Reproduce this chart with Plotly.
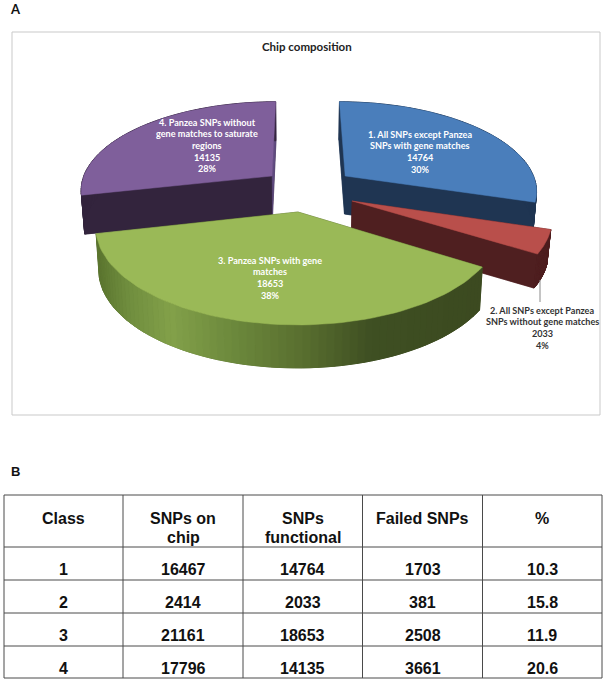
import numpy as np
import plotly.graph_objects as go

# ---- data ----
classes = ["1", "2", "3", "4"]
on_chip = [16467, 2414, 21161, 17796]
functional = [14764, 2033, 18653, 14135]
failed = [1703, 381, 2508, 3661]
failed_pct = ["10.3", "15.8", "11.9", "20.6"]
pie_pct = ["30%", "4%", "38%", "28%"]
headers = [["Class"], ["SNPs on", "chip"], ["SNPs", "functional"], ["Failed SNPs"], ["%"]]
slice_names = [
    ["1. All SNPs except Panzea", "SNPs with gene matches"],
    ["2. All SNPs except Panzea", "SNPs without gene matches"],
    ["3. Panzea SNPs with gene", "matches"],
    ["4. Panzea SNPs without", "gene matches to saturate", "regions"],
]

# ---- style / layout ----
top_col = ["#4a7ebb", "#b94f4b", "#9ab957", "#7f5f9b"]
wall_col = ["#1f3552", "#4f1f20", "#3f4f21", "#33243d"]
start_face = ["#1f3552", "#4f1f20", "#3f4f21", "#33243d"]
end_face = ["#1f3552", "#4f1f20", "#3f4f21", "#5f4a7f"]
offset_px = [47, 52, -2, -29]       # explosion, screen x
offset_y = [0.2715, -0.011, -0.128, 0.2715]
depth = [38, 34, 43, 39]
label_xy = [(420, 134), (542, 310), (270, 260), (207, 122)]
green_stops = [(97, "#5c7630"), (125, "#6f8d3e"), (170, "#83a14a"), (230, "#6d8a3d"),
               (300, "#5a7030"), (370, "#3f5023"), (485, "#3c4a20")]

CX, CY, RX, RY, K, ZS = 300, 200, 196, 92, 0.15, 0.985
LH = 11.7


def project(off_x, off_y, ang):
    X = np.sin(ang)
    Y = off_y + np.cos(ang)
    w = 1 / (1 + K * Y)
    return CX + (off_x + RX * X) * w, CY - RY * Y * w


def drop(x, y, d):
    return CX + (x - CX) * ZS, y + d


def hex2rgb(h):
    return np.array([int(h[i:i + 2], 16) for i in (1, 3, 5)], float)


def strip_color(x):
    xs = [s[0] for s in green_stops]
    rgb = [np.interp(x, xs, [hex2rgb(s[1])[c] for s in green_stops]) for c in range(3)]
    return "rgb(%d,%d,%d)" % tuple(rgb)


fig = go.Figure()


def poly(xs, ys, color, lw=0.5):
    fig.add_trace(go.Scatter(x=list(xs), y=list(ys), mode="lines", fill="toself", fillcolor=color,
                             line=dict(color=color, width=lw), hoverinfo="skip", showlegend=False))


total = sum(functional)
edges = np.concatenate([[0], np.cumsum(functional)]) / total * 2 * np.pi

# draw back-to-front
for i in [3, 0, 1, 2]:
    a0, a1 = edges[i], edges[i + 1]
    ang = np.linspace(a0, a1, 70)
    tx, ty = project(offset_px[i], offset_y[i], ang)
    # apex of the sector: radius zero
    w0 = 1 / (1 + K * offset_y[i])
    ax, ay = CX + offset_px[i] * w0, CY - RY * offset_y[i] * w0
    bx, by = drop(tx, ty, depth[i])
    bax, bay = drop(ax, ay, depth[i])
    # underside
    poly(np.r_[bax, bx, bax], np.r_[bay, by, bay], wall_col[i])
    # radial faces
    poly([ax, tx[0], bx[0], bax, ax], [ay, ty[0], by[0], bay, ay], start_face[i])
    poly([ax, tx[-1], bx[-1], bax, ax], [ay, ty[-1], by[-1], bay, ay], end_face[i])
    # curved outer wall
    for j in range(len(ang) - 1):
        c = strip_color((tx[j] + tx[j + 1]) / 2) if i == 2 else wall_col[i]
        poly([tx[j], tx[j + 1], bx[j + 1], bx[j], tx[j]],
             [ty[j], ty[j + 1], by[j + 1], by[j], ty[j]], c, 1)
    # top surface
    poly(np.r_[ax, tx, ax], np.r_[ay, ty, ay], top_col[i])

# ---- chart frame and table grid ----
col_edges = [4, 123, 243, 362.5, 482.5, 602]
row_edges = [495, 547, 580, 613, 646, 678]


def seg(x0, y0, x1, y1, color, width):
    fig.add_shape(type="line", x0=x0, y0=y0, x1=x1, y1=y1, layer="above",
                  line=dict(color=color, width=width))


fig.add_shape(type="rect", x0=12, y0=32, x1=600, y1=415, line=dict(color="#c9c9c9", width=1), layer="below")
seg(540, 280, 540, 302, "#8a8a8a", 1)
for y in row_edges:
    seg(col_edges[0], y, col_edges[-1], y, "#4a4a4a", 1)
for x in col_edges:
    seg(x, row_edges[0], x, row_edges[-1], "#4a4a4a", 1)


def text(x, y, s, size, color, family, bold=True):
    fig.add_annotation(x=x, y=y, text=f"<b>{s}</b>" if bold else s, showarrow=False,
                       xanchor="center", yanchor="middle",
                       font=dict(size=size, color=color, family=family))


LATO = "Lato, Carlito, sans-serif"
ARIAL = "Liberation Sans, Arial, sans-serif"
text(15, 9, "A", 13, "#111111", LATO)
text(15, 471, "B", 13, "#111111", ARIAL)
text(307, 46, "Chip composition", 11.5, "#222222", LATO)

for i in range(4):
    lines = slice_names[i] + [str(functional[i]), pie_pct[i]]
    col = "#333333" if i == 1 else "#ffffff"
    for n, ln in enumerate(lines):
        text(label_xy[i][0], label_xy[i][1] + n * LH, ln, 9.1, col, LATO)

# ---- table text ----
col_centers = [(col_edges[c] + col_edges[c + 1]) / 2 for c in range(5)]
for c, hdr in enumerate(headers):
    for n, ln in enumerate(hdr):
        text(col_centers[c], 518 + n * 19.5, ln, 16, "#111111", ARIAL)
rows = list(zip(classes, on_chip, functional, failed, failed_pct))
for r, row in enumerate(rows):
    for c, v in enumerate(row):
        text(col_centers[c], row_edges[r + 1] + 22.5, str(v), 16, "#111111", ARIAL)

fig.update_layout(
    width=603, height=682, margin=dict(l=0, r=0, t=0, b=0),
    paper_bgcolor="white", plot_bgcolor="white", showlegend=False,
    xaxis=dict(range=[0, 603], visible=False, fixedrange=True),
    yaxis=dict(range=[682, 0], visible=False, fixedrange=True),
)
fig.write_html("out.html", config={"displayModeBar": False},
               post_script="document.body.style.margin='0';document.body.style.overflow='hidden';")
